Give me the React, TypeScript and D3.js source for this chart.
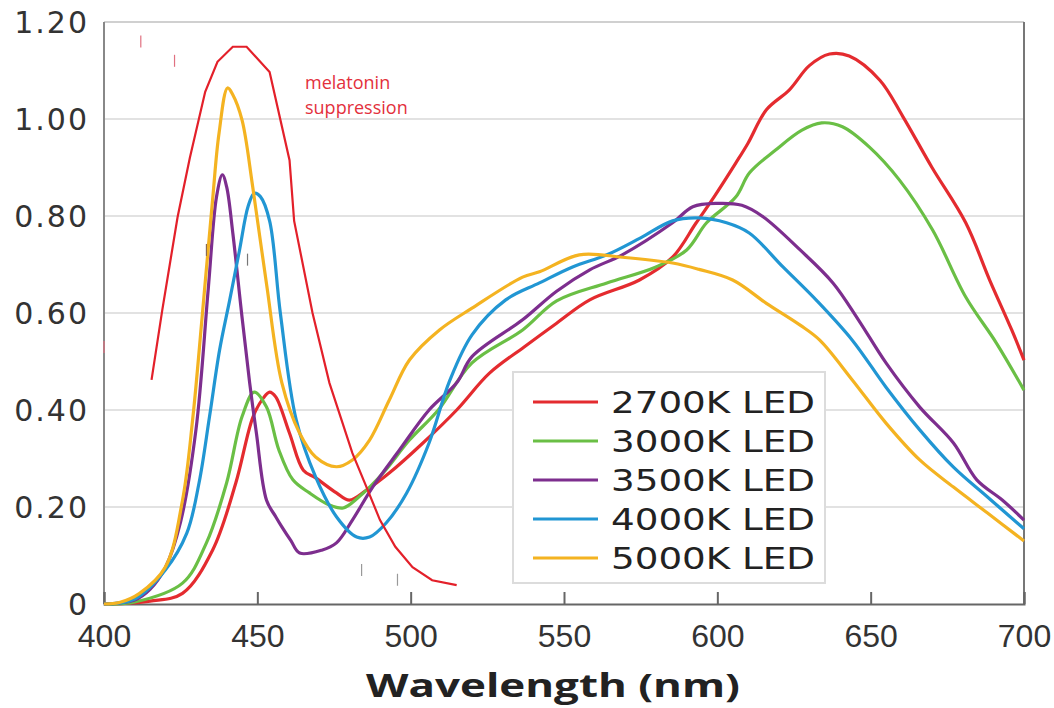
import { useRef, useEffect } from 'react'
import * as d3 from 'd3'

type Pt = [number, number]

const melatonin: Pt[] = [
	[415.5, 0.462], [419, 0.606], [424, 0.798], [428, 0.92], [433, 1.056], [437, 1.118],
	[442, 1.149], [446.5, 1.149], [454, 1.097], [460.5, 0.915], [462, 0.79], [468, 0.6],
	[473.5, 0.456], [481, 0.311], [485.6, 0.241], [490, 0.173], [495, 0.118], [500.6, 0.076],
	[507, 0.049], [515, 0.039],
]

const led2700: Pt[] = [
	[400, 0], [415, 0.006], [425.6, 0.022], [435.4, 0.111], [443, 0.25], [448.6, 0.386],
	[452, 0.425], [454, 0.437], [456, 0.427], [460.5, 0.352], [465, 0.276], [469, 0.26],
	[475.8, 0.229], [480, 0.214], [485.6, 0.235], [493, 0.27], [504, 0.332], [515, 0.4],
	[525.7, 0.476], [537, 0.53], [547.6, 0.579], [558.4, 0.627], [574.6, 0.668], [585.4, 0.715],
	[593, 0.785], [599, 0.84], [606, 0.909], [610, 0.95], [616, 1.019], [623.5, 1.06],
	[630, 1.11], [636.6, 1.134], [643, 1.13], [653, 1.08], [660.5, 1.005], [670, 0.9],
	[681, 0.786], [688.8, 0.668], [696, 0.565], [700, 0.503],
]

const led3000: Pt[] = [
	[400, 0], [410, 0.004], [425.6, 0.043], [433.4, 0.126], [440, 0.25], [445, 0.386],
	[449, 0.437], [453, 0.406], [457, 0.318], [461.6, 0.256], [467, 0.229], [473.5, 0.204],
	[478, 0.198], [483, 0.22], [491, 0.27], [499.6, 0.338], [509, 0.4], [520, 0.497],
	[536.5, 0.565], [547.6, 0.625], [564, 0.662], [580, 0.695], [590, 0.73], [596.5, 0.786],
	[606, 0.839], [610.5, 0.889], [619, 0.936], [627.6, 0.977], [634, 0.992], [640.8, 0.984],
	[649.6, 0.942], [659.4, 0.874], [670.2, 0.771], [681, 0.633], [691, 0.538], [700, 0.441],
]

const led3500: Pt[] = [
	[400, 0], [410, 0.008], [415, 0.03], [420, 0.075], [425, 0.17], [430, 0.36], [434, 0.65],
	[436.7, 0.84], [438.6, 0.885], [440, 0.86], [442, 0.765], [445, 0.592], [447.5, 0.456],
	[449.7, 0.352], [453, 0.214], [456, 0.18], [458, 0.159], [461, 0.13], [463.8, 0.105],
	[471, 0.111], [475.8, 0.126], [481, 0.173], [487.6, 0.241], [496.4, 0.318], [506, 0.4],
	[515, 0.456], [520, 0.51], [536.5, 0.586], [547.6, 0.645], [558.4, 0.689], [569, 0.72],
	[585.4, 0.786], [592, 0.819], [600, 0.826], [608, 0.822], [615, 0.798], [627, 0.73],
	[637.7, 0.662], [646, 0.586], [655, 0.497], [666, 0.406], [677, 0.332], [684.6, 0.256],
	[693, 0.214], [700, 0.173],
]

const led4000: Pt[] = [
	[400, 0], [410, 0.01], [420, 0.07], [427, 0.146], [431, 0.25], [434.4, 0.386],
	[437.7, 0.524], [441, 0.627], [444.2, 0.73], [447, 0.82], [449, 0.847], [451, 0.84],
	[454, 0.79], [457.5, 0.6], [462.7, 0.379], [469, 0.262], [475.8, 0.18], [482.4, 0.138],
	[486.6, 0.138], [492, 0.167], [498.7, 0.229], [506, 0.332], [512.7, 0.46], [520, 0.555],
	[531, 0.627], [542, 0.662], [552.8, 0.695], [564, 0.72], [575, 0.755], [585.4, 0.79],
	[594, 0.796], [603, 0.786], [610.4, 0.765], [621.4, 0.695], [632.5, 0.625], [644, 0.544],
	[655, 0.447], [666, 0.359], [677, 0.282], [688, 0.221], [700, 0.155],
]

const led5000: Pt[] = [
	[400, 0], [405, 0.003], [411.6, 0.022], [420, 0.076], [425.6, 0.214], [429, 0.386],
	[432, 0.592], [435.4, 0.833], [437.5, 0.97], [440.3, 1.064], [442, 1.05], [445, 0.998],
	[448.5, 0.86], [453, 0.66], [458, 0.456], [463.8, 0.352], [469, 0.303], [475.8, 0.283],
	[481, 0.297], [486.6, 0.338], [493, 0.42], [499.6, 0.503], [509.4, 0.565], [520, 0.61],
	[536.5, 0.674], [542, 0.685], [555, 0.72], [569, 0.715], [585.4, 0.703], [594, 0.69],
	[605, 0.668], [616, 0.62], [627, 0.575], [633.4, 0.544], [644, 0.462], [655, 0.373],
	[666, 0.297], [677, 0.241], [688, 0.188], [700, 0.13],
]

const seriesNames = ['2700K LED', '3000K LED', '3500K LED', '4000K LED', '5000K LED']
const seriesData = [led2700, led3000, led3500, led4000, led5000]
const seriesColors = ['#e42b2f', '#6abf45', '#7d2e8e', '#2196d3', '#f4b321']

const xTicks = [400, 450, 500, 550, 600, 650, 700]
const yTicks = [0, 0.2, 0.4, 0.6, 0.8, 1.0, 1.2]
const yTickLabels = ['0', '0.20', '0.40', '0.60', '0.80', '1.00', '1.20']

// stray marks scattered in the original scan
const strayMarks: [number, number, string][] = [
	[412, 1.16, '#e07080'], [423, 1.12, '#e07080'], [433.4, 0.73, '#8a6a50'],
	[446.8, 0.71, '#777'], [400, 0.53, '#e07080'], [484, 0.07, '#999'], [495.7, 0.05, '#999'],
]

const App = () => {
	const svgRef = useRef<SVGSVGElement | null>(null)

	useEffect(() => {
		if (!svgRef.current) return
		const width = 1054
		const height = 708
		const margin = { top: 22, right: 30, bottom: 104, left: 104 }

		const svg = d3.select(svgRef.current)
		svg.selectAll('*').remove()
		svg.attr('width', width).attr('height', height)

		const x = d3.scaleLinear().domain([400, 700]).range([margin.left, width - margin.right])
		const y = d3.scaleLinear().domain([0, 1.2]).range([height - margin.bottom, margin.top])

		// grid
		svg
			.append('g')
			.selectAll('line')
			.data(yTicks.slice(1))
			.enter()
			.append('line')
			.attr('x1', x(400))
			.attr('x2', x(700))
			.attr('y1', (d) => y(d))
			.attr('y2', (d) => y(d))
			.attr('stroke', '#e2e2e2')
			.attr('stroke-width', 2)

		// frame
		svg.append('line').attr('x1', x(400)).attr('x2', x(700)).attr('y1', y(1.2)).attr('y2', y(1.2))
			.attr('stroke', '#d0d0d0').attr('stroke-width', 2)
		svg.append('line').attr('x1', x(700)).attr('x2', x(700)).attr('y1', y(1.2)).attr('y2', y(0))
			.attr('stroke', '#777').attr('stroke-width', 2)
		svg.append('line').attr('x1', x(400)).attr('x2', x(400)).attr('y1', y(1.2)).attr('y2', y(0))
			.attr('stroke', '#888').attr('stroke-width', 2)

		// x axis
		const xAxis = svg
			.append('g')
			.attr('transform', `translate(0,${y(0)})`)
			.call(d3.axisBottom(x).tickValues(xTicks).tickSize(-12).tickPadding(20).tickFormat(d3.format('d')))
		xAxis.select('.domain').attr('stroke', '#666').attr('stroke-width', 2)
		xAxis.selectAll('.tick line').attr('stroke', '#666').attr('stroke-width', 2)
		xAxis.selectAll('.tick text')
			.attr('font-family', "'Liberation Sans', Arial, sans-serif")
			.attr('font-size', 32)
			.attr('fill', '#333')

		// y labels
		svg
			.append('g')
			.selectAll('text')
			.data(yTicks)
			.enter()
			.append('text')
			.attr('x', 89)
			.attr('y', (d) => y(d))
			.attr('dy', '0.36em')
			.attr('text-anchor', 'end')
			.attr('font-family', "'DejaVu Sans', Verdana, sans-serif")
			.attr('font-size', 30)
			.attr('letter-spacing', 2)
			.attr('fill', '#333')
			.text((d, i) => yTickLabels[i])

		svg
			.append('text')
			.attr('x', 553)
			.attr('y', 697)
			.attr('text-anchor', 'middle')
			.attr('font-family', "'Open Sans', sans-serif")
			.attr('font-weight', 'bold')
			.attr('font-size', 33)
			.attr('textLength', 374)
			.attr('lengthAdjust', 'spacingAndGlyphs')
			.attr('fill', '#222')
			.text('Wavelength (nm)')

		// series
		const line = d3
			.line<Pt>()
			.x((d) => x(d[0]))
			.y((d) => y(d[1]))
			.curve(d3.curveCatmullRom.alpha(0.5))

		svg
			.append('g')
			.selectAll('path')
			.data(seriesData)
			.enter()
			.append('path')
			.attr('d', (d) => line(d))
			.attr('fill', 'none')
			.attr('stroke', (d, i) => seriesColors[i])
			.attr('stroke-width', 3.2)
			.attr('stroke-linejoin', 'round')

		const melLine = d3
			.line<Pt>()
			.x((d) => x(d[0]))
			.y((d) => y(d[1]))
		svg
			.append('path')
			.attr('d', melLine(melatonin))
			.attr('fill', 'none')
			.attr('stroke', '#e3202a')
			.attr('stroke-width', 2.2)

		svg
			.append('g')
			.selectAll('line')
			.data(strayMarks)
			.enter()
			.append('line')
			.attr('x1', (d) => x(d[0]))
			.attr('x2', (d) => x(d[0]))
			.attr('y1', (d) => y(d[1]) - 6)
			.attr('y2', (d) => y(d[1]) + 6)
			.attr('stroke', (d) => d[2])
			.attr('stroke-width', 1.2)

		const mel = svg
			.append('text')
			.attr('font-family', "'Open Sans', sans-serif")
			.attr('font-size', 18)
			.attr('fill', '#e3303c')
		mel.append('tspan').attr('x', 305).attr('y', 89).text('melatonin')
		mel.append('tspan').attr('x', 305).attr('y', 114).text('suppression')

		// legend
		const legend = svg.append('g').attr('transform', 'translate(513,372)')
		legend
			.append('rect')
			.attr('width', 312)
			.attr('height', 211)
			.attr('fill', '#fff')
			.attr('stroke', '#dcdcdc')
			.attr('stroke-width', 2)
		const rows = legend
			.selectAll('g')
			.data(seriesNames)
			.enter()
			.append('g')
			.attr('transform', (d, i) => `translate(0,${30 + i * 39})`)
		rows
			.append('line')
			.attr('x1', 20)
			.attr('x2', 85)
			.attr('stroke', (d, i) => seriesColors[i])
			.attr('stroke-width', 3.2)
		rows
			.append('text')
			.attr('x', 98)
			.attr('dy', '0.36em')
			.attr('font-family', "'DejaVu Sans', Verdana, sans-serif")
			.attr('font-size', 30)
			.attr('textLength', 204)
			.attr('lengthAdjust', 'spacingAndGlyphs')
			.attr('fill', '#222')
			.text((d) => d)
	}, [])

	return (
		<div style={{ position: 'absolute', left: 0, top: 0, background: '#fff' }}>
			<svg ref={svgRef} style={{ display: 'block' }}></svg>
		</div>
	)
}

export default App
